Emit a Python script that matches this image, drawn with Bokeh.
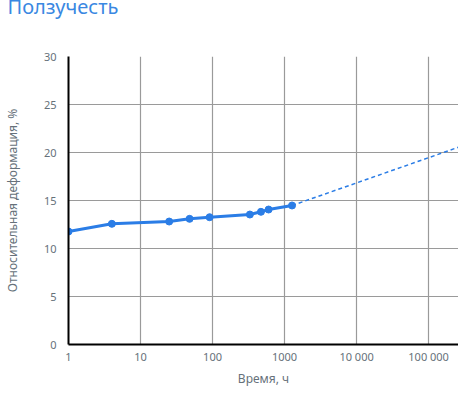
from bokeh.plotting import figure
from bokeh.models import FixedTicker, Range1d
from bokeh.embed import file_html
from bokeh.resources import INLINE

# data
hours = [1, 4, 25, 48, 91, 330, 470, 600, 1270]
strain = [11.77, 12.57, 12.81, 13.09, 13.26, 13.54, 13.82, 14.06, 14.48]
proj_hours = [1270, 260000]
proj_strain = [14.48, 20.55]
x_ticks = [1, 10, 100, 1000, 10000, 100000]
x_tick_labels = ["1", "10", "100", "1000", "10 000", "100 000"]
y_ticks = [0, 5, 10, 15, 20, 25, 30]
title_text = "Ползучесть"

BLUE = "#2b7de6"
FONT = "Noto Sans"
GRAY = "#66717a"

p = figure(frame_width=390, frame_height=288, x_axis_type="log",
           x_range=Range1d(1, 260000), y_range=Range1d(0, 30),
           output_backend="svg", toolbar_location=None,
           min_border_left=68, min_border_right=0,
           min_border_top=106, min_border_bottom=48,
           styles={"transform": "translateY(-50px)"})

p.title.text = title_text
p.title.text_font = FONT
p.title.text_font_size = "20px"
p.title.text_font_style = "normal"
p.title.text_color = "#3a88e2"
p.title.align = "left"
p.title.offset = -61
p.title.standoff = 74

p.outline_line_color = None
p.background_fill_color = "white"

p.line(hours, strain, line_color=BLUE, line_width=3)
p.scatter(hours, strain, size=7, fill_color=BLUE, line_color=BLUE)
p.line(proj_hours, proj_strain, line_color=BLUE, line_width=1.5, line_dash="4 3")

p.xaxis.ticker = FixedTicker(ticks=x_ticks, minor_ticks=[])
p.xaxis.major_label_overrides = {t: l for t, l in zip(x_ticks, x_tick_labels)}
p.yaxis.ticker = FixedTicker(ticks=y_ticks, minor_ticks=[])

for ax in (p.xaxis, p.yaxis):
    ax.axis_line_color = "black"
    ax.axis_line_width = 2
    ax.major_tick_line_color = None
    ax.minor_tick_line_color = None
    ax.major_tick_out = 0
    ax.major_tick_in = 0
    ax.minor_tick_out = 0
    ax.minor_tick_in = 0
    ax.major_label_text_font = FONT
    ax.major_label_text_font_size = "11px"
    ax.major_label_text_color = GRAY
    ax.axis_label_text_font = FONT
    ax.axis_label_text_font_size = "12px"
    ax.axis_label_text_font_style = "normal"
    ax.axis_label_text_color = GRAY

p.xaxis.axis_label = "Время, ч"
p.yaxis.axis_label = "Относительная деформация, %"
p.xaxis.major_label_standoff = 4
p.xaxis.axis_label_standoff = 3
p.yaxis.major_label_standoff = 12
p.yaxis.axis_label_standoff = 20

p.grid.grid_line_color = "#9a9a9a"
p.grid.grid_line_width = 1.2
p.grid.grid_line_alpha = 1.0

open("out.html", "w").write(file_html(p, INLINE))
